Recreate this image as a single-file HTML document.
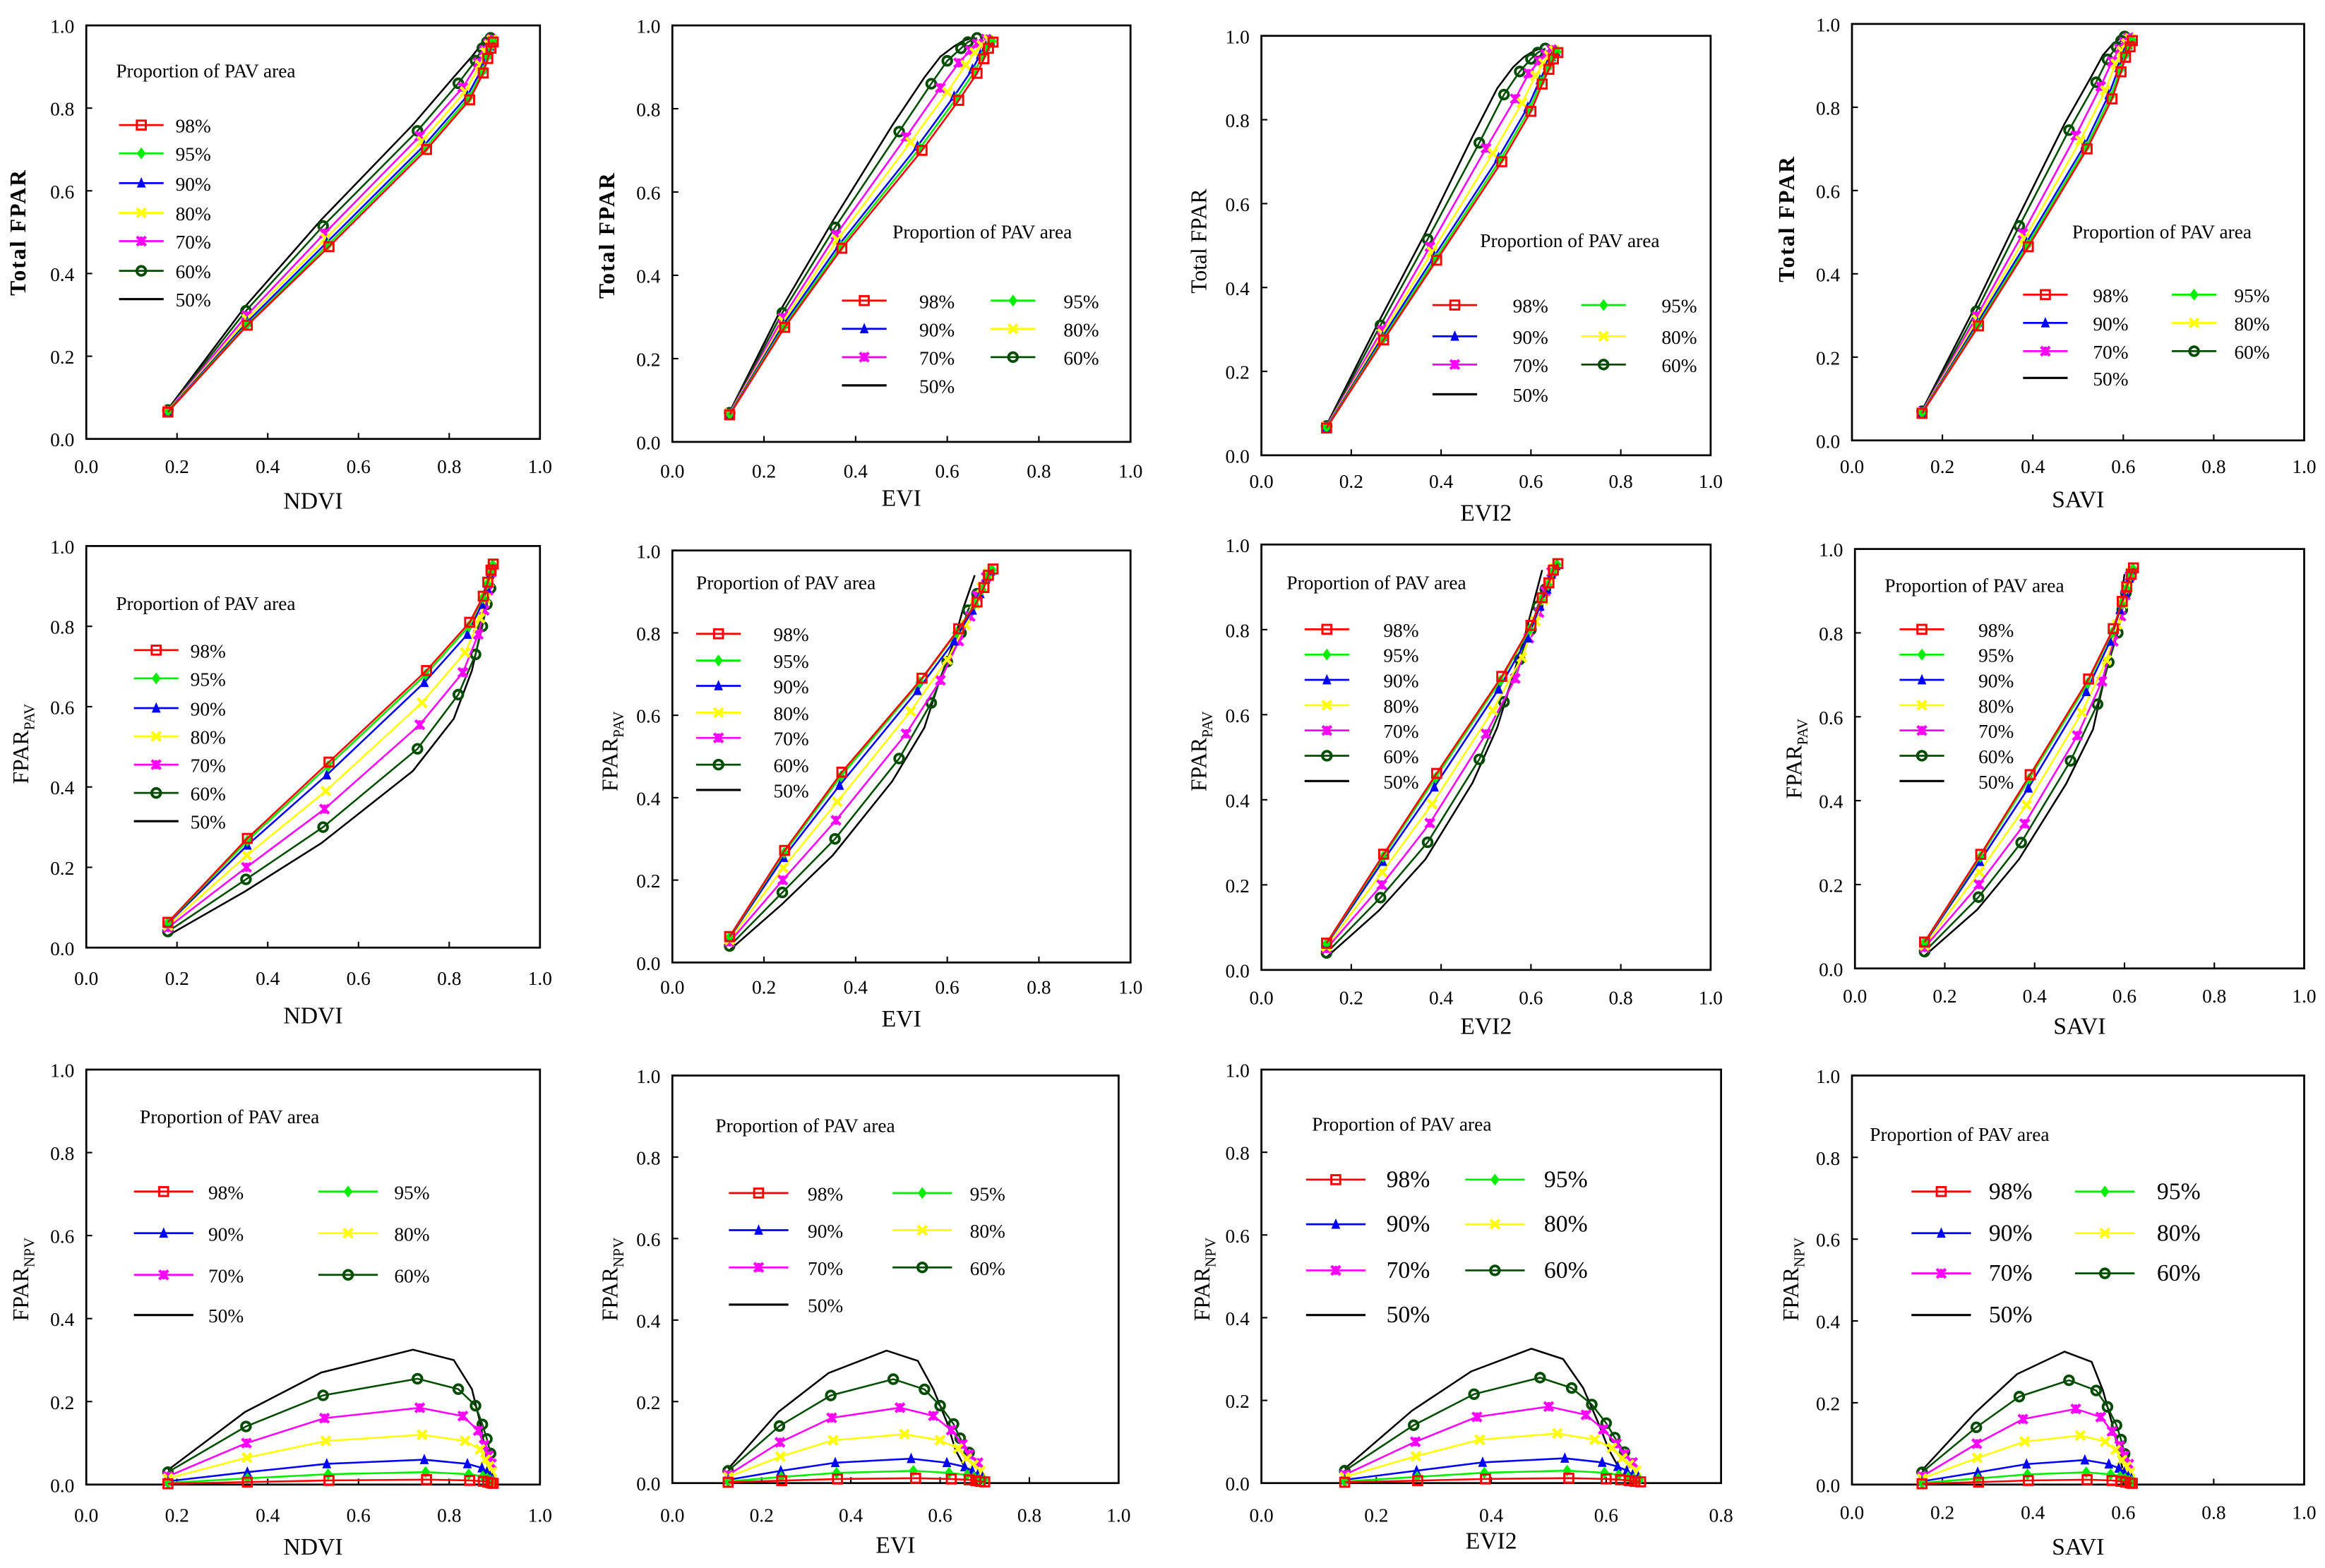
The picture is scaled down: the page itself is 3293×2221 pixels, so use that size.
<!DOCTYPE html>
<html><head><meta charset="utf-8"><style>
html,body{margin:0;padding:0;background:#fff;}
svg{display:block;}
text{font-family:"Liberation Serif",serif;}
</style></head><body>
<svg id="chart" width="3293" height="2221" viewBox="0 0 1563 1054" xmlns="http://www.w3.org/2000/svg" font-family="Liberation Serif, serif"></svg>
<script>
// ---- data ----
const seriesNames = ["98%","95%","90%","80%","70%","60%","50%"];
const xNDVI = [
 [.18,.355,.535,.75,.845,.875,.885,.892,.897],
 [.18,.355,.533,.748,.843,.874,.884,.891,.896],
 [.18,.355,.53,.745,.84,.872,.883,.89,.895],
 [.18,.354,.528,.74,.835,.868,.88,.888,.894],
 [.18,.353,.525,.735,.83,.864,.877,.886,.893],
 [.18,.352,.522,.73,.82,.858,.873,.883,.891],
 [.18,.35,.518,.72,.81,.85,.868,.88,.89]];
const xEVI = [
 [.125,.245,.37,.545,.625,.665,.68,.69,.70],
 [.125,.244,.368,.54,.62,.66,.676,.687,.698],
 [.125,.243,.365,.535,.615,.655,.672,.684,.695],
 [.125,.242,.36,.52,.60,.64,.66,.675,.69],
 [.125,.241,.357,.51,.585,.625,.65,.665,.685],
 [.125,.24,.355,.495,.565,.60,.63,.645,.665],
 [.125,.238,.35,.48,.55,.585,.615,.635,.66]];
const xEVI2 = [
 [.145,.272,.39,.535,.60,.625,.64,.65,.66],
 [.145,.271,.388,.532,.597,.622,.638,.648,.658],
 [.145,.27,.385,.528,.593,.62,.636,.646,.656],
 [.145,.269,.38,.515,.58,.61,.628,.64,.652],
 [.145,.268,.375,.5,.565,.595,.618,.632,.646],
 [.145,.265,.37,.485,.54,.575,.60,.615,.632],
 [.145,.262,.365,.47,.525,.56,.585,.605,.625]];
const xSAVI = [
 [.155,.28,.39,.52,.575,.595,.605,.615,.62],
 [.155,.279,.388,.518,.572,.593,.604,.613,.619],
 [.155,.278,.386,.515,.568,.59,.602,.611,.618],
 [.155,.277,.382,.505,.56,.583,.597,.607,.615],
 [.155,.276,.378,.495,.55,.575,.592,.602,.612],
 [.155,.275,.37,.48,.54,.565,.585,.595,.603],
 [.155,.272,.365,.47,.53,.555,.575,.59,.60]];
const yTotal = [
 [.065,.275,.465,.70,.82,.885,.92,.945,.96],
 [.066,.278,.47,.705,.825,.89,.925,.948,.962],
 [.067,.283,.475,.71,.83,.895,.93,.95,.963],
 [.068,.29,.485,.72,.84,.905,.935,.953,.965],
 [.069,.298,.497,.732,.85,.91,.94,.956,.967],
 [.07,.31,.515,.745,.86,.915,.945,.96,.97],
 [.072,.32,.53,.76,.875,.925,.95,.963,.972]];
const yPAV = [
 [.063,.272,.462,.69,.81,.875,.91,.94,.955],
 [.062,.266,.452,.68,.80,.87,.905,.935,.953],
 [.06,.255,.43,.66,.78,.855,.895,.93,.95],
 [.055,.23,.39,.61,.735,.82,.87,.91,.945],
 [.05,.20,.345,.555,.685,.78,.84,.89,.935],
 [.04,.17,.30,.495,.63,.73,.80,.855,.895],
 [.03,.14,.26,.44,.57,.69,.78,.86,.94]];
const yNPV = [
 [.002,.006,.01,.012,.01,.008,.006,.004,.003],
 [.004,.015,.025,.03,.025,.02,.015,.01,.008],
 [.008,.03,.05,.06,.05,.04,.03,.02,.015],
 [.015,.065,.105,.12,.105,.085,.06,.045,.03],
 [.02,.10,.16,.185,.165,.13,.095,.07,.05],
 [.03,.14,.215,.255,.23,.19,.145,.11,.075],
 [.035,.175,.27,.325,.30,.23,.15,.08,.03]];
const xTicks = ["0.0","0.2","0.4","0.6","0.8","1.0"];
const xTicksEVI2row3 = ["0.0","0.2","0.4","0.6","0.8"];
const yTicks = ["0.0","0.2","0.4","0.6","0.8","1.0"];

const colors = ["#ff0000","#00ee00","#0000ff","#ffff00","#ff00ff","#004d00","#000000"];
const NS="http://www.w3.org/2000/svg";
const svg=document.getElementById('chart');
const FF='"Liberation Serif", serif';
function el(tag,attrs,parent){const e=document.createElementNS(NS,tag);if(tag==='text')e.setAttribute('font-family',FF);for(const k in attrs)e.setAttribute(k,attrs[k]);(parent||svg).appendChild(e);return e;}

const panels=[
 {xs:xNDVI,ys:yTotal,x0:58,x1:363,yb:295,yt:17,xl:"NDVI",lx:313,tx:337,yl:"total",ylx:12,yly:156,
  leg:{tx:78,ty:47,cols:1,rows:[84,103,123,143,162,182,201],c:[[80,110,118]],fs:13}},
 {xs:xEVI,ys:yTotal,x0:452,x1:760,yb:297,yt:17,xl:"EVI",lx:316,tx:335,yl:"total",ylx:408,yly:158,
  leg:{tx:600,ty:155,cols:2,rows:[202,221,240,259],c:[[566,596,618],[666,696,715]],fs:13}},
 {xs:xEVI2,ys:yTotal,x0:848,x1:1150,yb:306,yt:24,xl:"EVI2",lx:323,tx:345,yl:"total2",ylx:806,yly:162,
  leg:{tx:995,ty:161,cols:2,rows:[205,226,245,265],c:[[963,993,1017],[1063,1093,1117]],fs:13}},
 {xs:xSAVI,ys:yTotal,x0:1245,x1:1549,yb:296,yt:16,xl:"SAVI",lx:313,tx:336,yl:"total",ylx:1201,yly:147,
  leg:{tx:1393,ty:155,cols:2,rows:[198,217,236,254],c:[[1360,1390,1407],[1460,1490,1502]],fs:13}},
 {xs:xNDVI,ys:yPAV,x0:58,x1:363,yb:637,yt:367,xl:"NDVI",lx:657,tx:683,yl:"PAV",ylx:14,yly:500,
  leg:{tx:78,ty:405,cols:1,rows:[437,456,476,495,514,533,552],c:[[90,120,128]],fs:13}},
 {xs:xEVI,ys:yPAV,x0:452,x1:760,yb:647,yt:370,xl:"EVI",lx:663,tx:685,yl:"PAV",ylx:410,yly:505,
  leg:{tx:468,ty:391,cols:1,rows:[426,444,461,479,496,514,531],c:[[468,498,520]],fs:13}},
 {xs:xEVI2,ys:yPAV,x0:848,x1:1150,yb:652,yt:366,xl:"EVI2",lx:670,tx:690,yl:"PAV",ylx:806,yly:505,
  leg:{tx:865,ty:391,cols:1,rows:[423,440,457,474,491,508,525],c:[[877,907,930]],fs:13}},
 {xs:xSAVI,ys:yPAV,x0:1247,x1:1549,yb:651,yt:369,xl:"SAVI",lx:669,tx:690,yl:"PAV",ylx:1206,yly:510,
  leg:{tx:1267,ty:393,cols:1,rows:[423,440,457,474,491,508,525],c:[[1277,1307,1330]],fs:13}},
 {xs:xNDVI,ys:yNPV,x0:58,x1:363,yb:998,yt:719,xl:"NDVI",lx:1018,tx:1040,yl:"NPV",ylx:14,yly:860,
  leg:{tx:94,ty:750,cols:2,rows:[801,829,857,884],c:[[90,130,140],[214,254,265]],fs:13}},
 {xs:xEVI,ys:yNPV,x0:452,x1:752,yb:997,yt:723,xl:"EVI",lx:1018,tx:1039,yl:"NPV",ylx:410,yly:860,
  leg:{tx:481,ty:756,cols:2,rows:[802,827,852,877],c:[[490,530,543],[600,640,652]],fs:13}},
 {xs:xEVI2,ys:yNPV,x0:848,x1:1157,xmax:0.8,yb:997,yt:719,xl:"EVI2",lx:1018,tx:1036,yl:"NPV",ylx:808,yly:860,
  leg:{tx:882,ty:755,cols:2,rows:[793,823,854,884],c:[[878,918,932],[985,1025,1038]],fs:16}},
 {xs:xSAVI,ys:yNPV,x0:1245,x1:1549,yb:998,yt:723,xl:"SAVI",lx:1016,tx:1040,yl:"NPV",ylx:1204,yly:860,
  leg:{tx:1257,ty:762,cols:2,rows:[801,829,856,884],c:[[1285,1325,1337],[1395,1435,1450]],fs:16}}
];

function marker(g,i,x,y,s){
  const c=colors[i];
  if(i===0) el('rect',{x:x-s,y:y-s,width:2*s,height:2*s,fill:'none',stroke:c,'stroke-width':1.4},g);
  else if(i===1) el('polygon',{points:`${x},${y-s-1} ${x+s},${y} ${x},${y+s+1} ${x-s},${y}`,fill:c},g);
  else if(i===2) el('polygon',{points:`${x},${y-s-1} ${x+s},${y+s} ${x-s},${y+s}`,fill:c},g);
  else if(i===3) el('path',{d:`M${x-s},${y-s}L${x+s},${y+s}M${x-s},${y+s}L${x+s},${y-s}`,stroke:c,'stroke-width':2},g);
  else if(i===4) el('path',{d:`M${x-s},${y-s}L${x+s},${y+s}M${x-s},${y+s}L${x+s},${y-s}M${x},${y-s}L${x},${y+s}`,stroke:c,'stroke-width':2},g);
  else if(i===5) el('circle',{cx:x,cy:y,r:s,fill:'none',stroke:c,'stroke-width':1.8},g);
}

panels.forEach((p,pi)=>{
  const g=el('g',{});
  
  
  const xmax=p.xmax||1.0;
  const sx=v=>p.x0+(v/xmax)*(p.x1-p.x0);
  const sy=v=>p.yb-v*(p.yb-p.yt);
  const box=el('rect',{x:p.x0,y:p.yt,width:p.x1-p.x0,height:p.yb-p.yt,fill:'none',stroke:'#000','stroke-width':1.3},g);
  
  
  const xt=p.xmax?xTicksEVI2row3:xTicks;
  xt.forEach(t=>{const v=parseFloat(t);const X=sx(v);
    el('line',{x1:X,y1:p.yb,x2:X,y2:p.yb-4,stroke:'#000','stroke-width':1},g);
    const tx=el('text',{x:X,y:p.lx+5,'font-size':13,'text-anchor':'middle'},g);tx.textContent=t;
    
    
  });
  yTicks.forEach(t=>{const v=parseFloat(t);const Y=sy(v);
    el('line',{x1:p.x0,y1:Y,x2:p.x0+4,y2:Y,stroke:'#000','stroke-width':1},g);
    const tx=el('text',{x:p.x0-8,y:Y+5,'font-size':13,'text-anchor':'end'},g);tx.textContent=t;
    
    
  });
  const xt2=el('text',{x:(p.x0+p.x1)/2,y:p.tx+5,'font-size':16,'text-anchor':'middle'},g);xt2.textContent=p.xl;
  
  
  const yt=el('text',{x:0,y:0,'font-size':15,'text-anchor':'middle',transform:`translate(${p.ylx+5},${p.yly}) rotate(-90)`},g);
  
  
  if(p.yl==='total'){yt.textContent='Total  FPAR';yt.setAttribute('font-weight','bold');yt.setAttribute('letter-spacing','1');}
  else if(p.yl==='total2'){yt.textContent='Total FPAR';}
  else {yt.textContent='FPAR';const ts=el('tspan',{'font-size':10,dy:4},yt);ts.textContent=p.yl;}
  for(let i=6;i>=0;i--){
    const xs=p.xs[i],ys=p.ys[i];
    const pts=xs.map((x,k)=>sx(x)+','+sy(ys[k])).join(' ');
    const pl=el('polyline',{points:pts,fill:'none',stroke:colors[i],'stroke-width':1.2},g);
    
    
    if(i<6) xs.forEach((x,k)=>marker(g,i,sx(x),sy(ys[k]),3));
  }
  const L=p.leg;
  const lg=el('g',{},g);
  
  
  const tt=el('text',{x:L.tx,y:L.ty+5,'font-size':13},lg);tt.textContent='Proportion of PAV area';
  for(let i=0;i<7;i++){
    let r,c;
    if(L.cols===1){r=i;c=0;}else{r=Math.floor(i/2);c=i%2;}
    const Y=L.rows[r],cc=L.c[c];
    const le=el('g',{},lg);
    
    
    el('line',{x1:cc[0],y1:Y,x2:cc[1],y2:Y,stroke:colors[i],'stroke-width':i===6?1.5:1.3},le);
    if(i<6) marker(le,i,(cc[0]+cc[1])/2,Y,3);
    const t=el('text',{x:cc[2],y:Y+5,'font-size':L.fs},le);t.textContent=seriesNames[i];
  }
});
</script>
</body></html>
